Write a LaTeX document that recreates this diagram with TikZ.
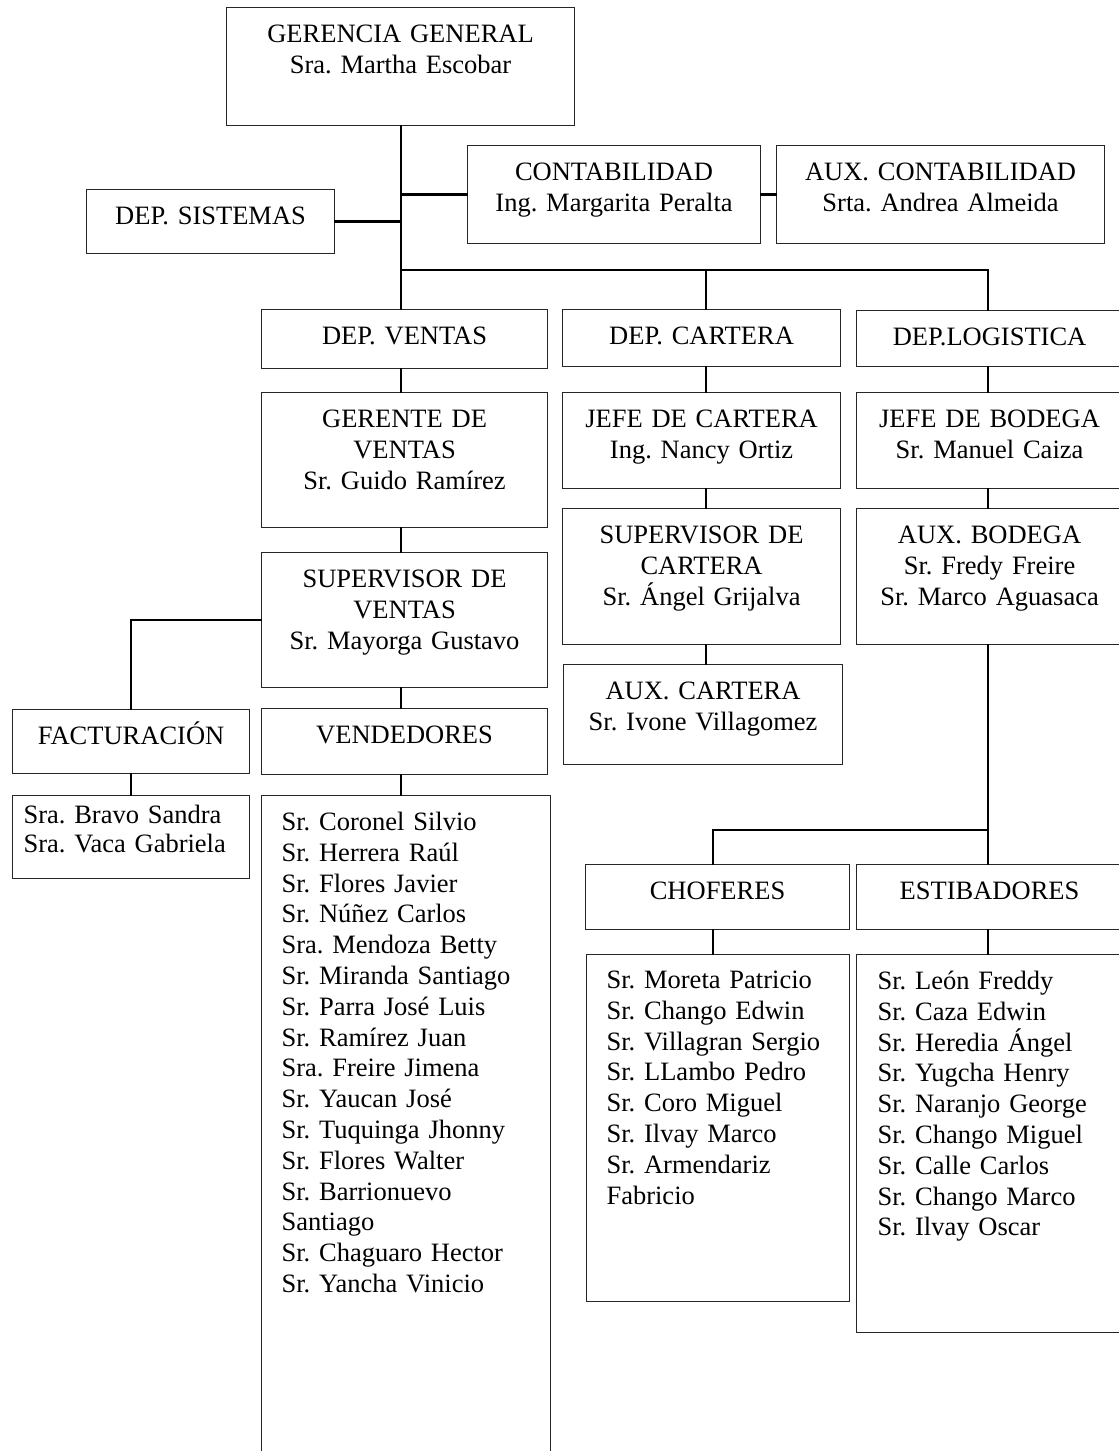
\documentclass[tikz,border=0pt]{standalone}
\usepackage{fontspec}
\setmainfont{Liberation Serif}
\frenchspacing
\tikzset{
  unit/.style={draw=black!85, line width=0.55pt, anchor=north west, inner xsep=0pt, inner ysep=0pt,
    align=center, text height=17.5pt, font=\fontsize{13.25pt}{15.4pt}\selectfont},
  roster/.style={unit, align=left, inner xsep=10pt},
  link/.style={line width=1.1pt, line cap=rect},
}
\begin{document}
\begin{tikzpicture}[x=0.5pt,y=-0.5pt]
  \useasboundingbox (0,0) rectangle (1119,1451);
  \clip (0,0) rectangle (1119,1451);

  % upper part
  \node[unit, text width=174pt, text depth=41.5pt] (gg) at (226,7) {GERENCIA GENERAL\\Sra. Martha Escobar};
  \node[unit, text width=124pt, text depth=14.5pt] (sis) at (86,189) {DEP. SISTEMAS};
  \node[unit, text width=146.5pt, text depth=31.5pt] (cont) at (467,145) {CONTABILIDAD\\Ing. Margarita Peralta};
  \node[unit, text width=164pt, text depth=31.5pt] (auxc) at (776,145) {AUX. CONTABILIDAD\\Srta. Andrea Almeida};

  % departments
  \node[unit, text width=143pt, text depth=12pt] (ven) at (261,309) {DEP. VENTAS};
  \node[unit, text width=139pt, text depth=11pt] (car) at (562,309) {DEP. CARTERA};
  \node[unit, text width=133pt, text depth=10.5pt] (log) at (856,310) {DEP.LOGISTICA\hspace*{14pt}};

  \node[unit, text width=143pt, text depth=50pt] (gven) at (261,392) {GERENTE DE\\VENTAS\\Sr. Guido Ramírez};
  \node[unit, text width=143pt, text depth=50pt] (sven) at (261,552) {SUPERVISOR DE\\VENTAS\\Sr. Mayorga Gustavo};
  \node[unit, text width=118.5pt, text depth=14.5pt] (fac) at (12,709) {FACTURACIÓN};
  \node[unit, text width=143pt, text depth=15.5pt] (vend) at (261,708) {VENDEDORES};

  \node[unit, text width=139pt, text depth=30.5pt] (jcar) at (562,392) {JEFE DE CARTERA\\Ing. Nancy Ortiz};
  \node[unit, text width=139pt, text depth=50.5pt] (scar) at (562,508) {SUPERVISOR DE\\CARTERA\\Sr. Ángel Grijalva};
  \node[unit, text width=139.5pt, text depth=32.5pt] (acar) at (563,664) {AUX. CARTERA\\Sr. Ivone Villagomez};

  \node[unit, text width=133pt, text depth=30.5pt] (jbod) at (856,392) {JEFE DE BODEGA\\Sr. Manuel Caiza};
  \node[unit, text width=133pt, text depth=50.5pt] (abod) at (856,508) {AUX. BODEGA\\Sr. Fredy Freire\\Sr. Marco Aguasaca};
  \node[unit, text width=132pt, text depth=15pt] (cho) at (585,864) {CHOFERES};
  \node[unit, text width=133pt, text depth=15pt] (est) at (856,864) {ESTIBADORES};

  % name lists
  \node[roster, inner xsep=5.5pt, text width=107.5pt, text height=14pt, text depth=27.5pt,
    font=\fontsize{13.25pt}{14.5pt}\selectfont] (facl) at (12,795)
    {Sra. Bravo Sandra\\Sra. Vaca Gabriela};
  \node[roster, text width=124.5pt, text depth=322.5pt] (vendl) at (261,795)
    {Sr. Coronel Silvio\\Sr. Herrera Raúl\\Sr. Flores Javier\\Sr. Núñez Carlos\\Sra. Mendoza Betty\\
     Sr. Miranda Santiago\\Sr. Parra José Luis\\Sr. Ramírez Juan\\Sra. Freire Jimena\\Sr. Yaucan José\\
     Sr. Tuquinga Jhonny\\Sr. Flores Walter\\Sr. Barrionuevo\\Santiago\\Sr. Chaguaro Hector\\Sr. Yancha Vinicio};
  \node[roster, text width=111.5pt, text height=17pt, text depth=156.5pt] (chol) at (586,954)
    {Sr. Moreta Patricio\\Sr. Chango Edwin\\Sr. Villagran Sergio\\Sr. LLambo Pedro\\Sr. Coro Miguel\\
     Sr. Ilvay Marco\\Sr. Armendariz\\Fabricio};
  \node[roster, inner xsep=10.5pt, text width=112pt, text depth=171.5pt] (estl) at (856,954)
    {Sr. León Freddy\\Sr. Caza Edwin\\Sr. Heredia Ángel\\Sr. Yugcha Henry\\Sr. Naranjo George\\
     Sr. Chango Miguel\\Sr. Calle Carlos\\Sr. Chango Marco\\Sr. Ilvay Oscar};

  % connectors
  \coordinate (cv) at (401,270);
  \coordinate (cc) at (706,270);
  \coordinate (cl) at (988,270);
  \coordinate (cb) at (713,830);

  \draw[link] (cv |- gg.south) -- (cv |- ven.north);
  \draw[link] (sis.east) -- (sis.east -| cv);
  \draw[link] (cont.west) -- (cont.west -| cv);
  \draw[link] (cont.east) -- (auxc.west);
  \draw[link] (cv) -- (cl) -- (cl |- log.north);
  \draw[link] (cc) -- (cc |- car.north);
  \foreach \c/\a/\b in {cv/ven/gven, cv/gven/sven, cv/sven/vend, cv/vend/vendl,
                        cc/car/jcar, cc/jcar/scar, cc/scar/acar,
                        cl/log/jbod, cl/jbod/abod, cl/abod/est, cl/est/estl}
    \draw[link] (\c |- \a.south) -- (\c |- \b.north);
  \draw[link] (cb -| cl) -- (cb) -- (cb |- cho.north);
  \draw[link] (cb |- cho.south) -- (cb |- chol.north);
  \draw[link] (sven.west) -| (fac.north);
  \draw[link] (fac.south) -- (facl.north);

\end{tikzpicture}
\end{document}
